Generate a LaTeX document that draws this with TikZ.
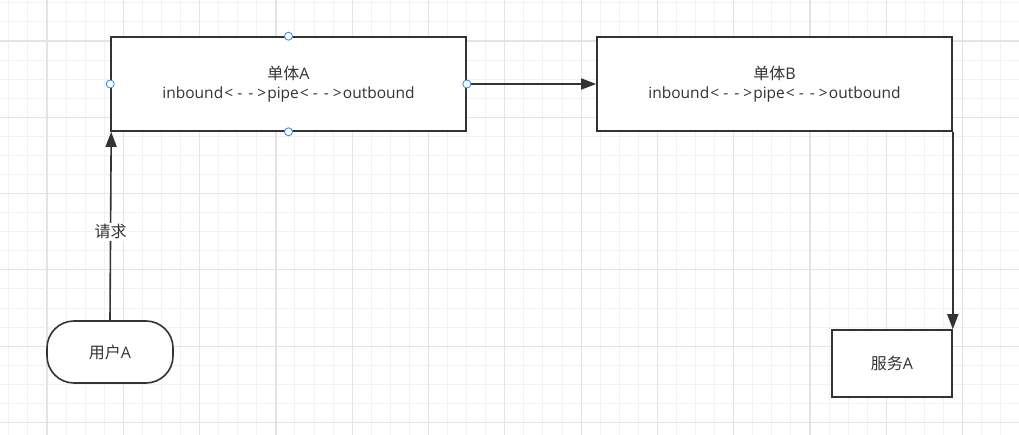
\documentclass[tikz,border=0pt]{standalone}
\usepackage{fontspec}
\setmainfont{Open Sans}
\newfontfamily\cjk{Noto Sans CJK SC}
\usetikzlibrary{arrows.meta}
\definecolor{ink}{HTML}{333333}
\definecolor{gridminor}{HTML}{F2F2F2}
\definecolor{gridmajor}{HTML}{E4E4E4}
\definecolor{handle}{HTML}{3D8EF5}
\newcommand{\myarrs}{\makebox[11pt]{<}\makebox[11pt]{-}\makebox[11pt]{-}\makebox[11pt]{>}}
\newcommand{\mypipe}{{\fontsize{15.5}{19.5}\selectfont inbound\myarrs pipe\myarrs outbound}}
\tikzset{
  box/.style={draw=ink, line width=1.6pt, fill=white, inner sep=0pt, align=center,
    text=ink, font=\fontsize{16}{19.5}\selectfont},
  pill/.style={box, rounded corners=27pt},
  conn/.style={draw=ink, line width=1.6pt, -{Triangle[length=15pt,width=11pt]}},
  lbl/.style={fill=white, inner sep=1.5pt, text=ink, font=\fontsize{16}{19}\selectfont},
  hdl/.style={draw=handle, fill=white, line width=0.9pt},
}
\begin{document}
\begin{tikzpicture}[x=1pt,y=-1pt]
\useasboundingbox (0,0) rectangle (1019,435);
\fill[white] (0,0) rectangle (1019,435);
% grid
\foreach \k in {-2,...,51} {
  \draw[gridminor, line width=1pt] ({47+19.075*\k},0) -- ({47+19.075*\k},435);
}
\foreach \k in {-2,...,20} {
  \draw[gridminor, line width=1pt] (0,{41+19.075*\k}) -- (1019,{41+19.075*\k});
}
\foreach \k in {0,...,12} {
  \draw[gridmajor, line width=1.2pt] ({47+76.3*\k},0) -- ({47+76.3*\k},435);
}
\foreach \k in {0,...,5} {
  \draw[gridmajor, line width=1.2pt] (0,{41+76.3*\k}) -- (1019,{41+76.3*\k});
}
% nodes
\node[box, minimum width=355pt, minimum height=94pt] (A) at (288.5,84)
  {{\cjk 单体}A\\\mypipe};
\node[box, minimum width=355pt, minimum height=94pt] (B) at (774.5,84)
  {{\cjk 单体}B\\\mypipe};
\node[box, minimum width=120pt, minimum height=67pt] (S) at (892,363.5)
  {{\cjk 服务}A};
\node[pill, minimum width=126pt, minimum height=62pt] (U) at (110,352)
  {{\cjk 用户}A};
% connectors
\coordinate (Ain) at ([xshift=1pt]A.south west);
\draw[conn] (U.north) -- node[lbl, pos=0.47] {\cjk 请求} (Ain);
\draw[conn] (A.east) -- (B.west);
\draw[conn] (B.south east) -- (S.north east);
% selection handles
\foreach \p in {north,south,east,west} {
  \draw[hdl] (A.\p) circle (4pt);
}
\end{tikzpicture}
\end{document}
